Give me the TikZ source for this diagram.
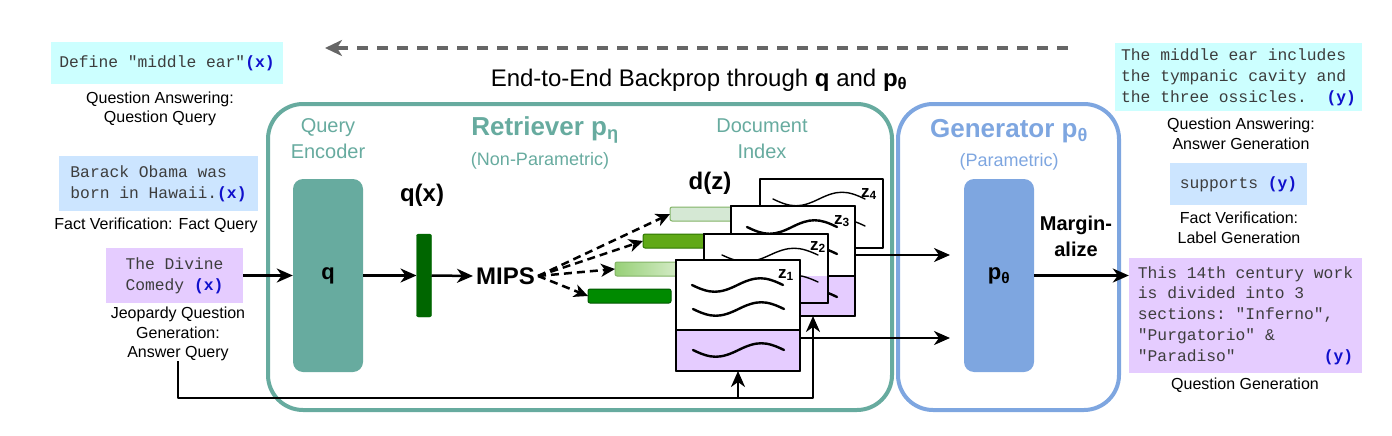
\documentclass[tikz,border=0pt]{standalone}
\usepackage{fontspec}
\setmainfont{Liberation Sans}
\setmonofont{Liberation Mono}
\usetikzlibrary{arrows.meta}
\definecolor{tealret}{HTML}{67AB9F}
\definecolor{bluegen}{HTML}{7EA6E0}
\definecolor{qacyan}{HTML}{CCFFFF}
\definecolor{fvblue}{HTML}{CCE5FF}
\definecolor{jqlav}{HTML}{E5CCFF}
\definecolor{qgreen}{HTML}{006600}
\definecolor{monogray}{HTML}{3D3D3D}
\definecolor{varblue}{HTML}{1010CC}
\definecolor{arrowgray}{HTML}{666666}
\definecolor{barAfill}{HTML}{D5E8D4}
\definecolor{barAline}{HTML}{82B366}
\definecolor{barBfill}{HTML}{60A917}
\definecolor{barBline}{HTML}{2D7600}
\definecolor{barCleft}{HTML}{97D077}
\definecolor{barCright}{HTML}{E8F4E0}
\definecolor{barDfill}{HTML}{008A00}
\definecolor{barDline}{HTML}{005700}
\newcommand{\fsz}[2]{\fontsize{#1}{#2}\selectfont}
\newcommand{\varx}{\textbf{\color{varblue}(x)}}
\newcommand{\vary}{\textbf{\color{varblue}(y)}}
% wave inside a document page: x, y, width
\newcommand{\docwave}[4][wavy]{\draw[#1] (#2,#3) .. controls (#2+0.2*#4,#3+9) and (#2+0.3*#4,#3+9) .. (#2+0.5*#4,#3) .. controls (#2+0.7*#4,#3-9) and (#2+0.8*#4,#3-9) .. (#2+#4,#3);}
\begin{document}
\begin{tikzpicture}[x=1pt, y=-1pt, >={Stealth[length=16pt,width=14pt,inset=5pt]}, line join=round,
	lab/.style={font=\fsz{16}{19.5}, align=center, inner sep=0pt},
	inbox/.style={font=\ttfamily\fsz{16.3}{20.8}, text=monogray, align=left, inner sep=0pt},
	headtxt/.style={align=center, inner sep=0pt},
	bold24/.style={font=\bfseries\fsz{24}{28}, inner sep=0pt},
	flow/.style={->, line width=2.5pt},
	mipsflow/.style={->, line width=2.5pt, dash pattern=on 8pt off 5pt, >={Stealth[length=14pt,width=13pt,inset=4pt]}},
	backprop/.style={->, draw=arrowgray, line width=3.2pt, dash pattern=on 11pt off 9pt, >={Stealth[length=17pt,width=16pt,inset=5pt]}},
	stage/.style={line width=4pt, rounded corners=35pt, inner sep=0pt, outer sep=0pt},
	encbox/.style={rounded corners=10pt, minimum width=70pt, minimum height=193pt, font=\bfseries\fsz{22}{26}},
	bar/.style={draw, line width=1pt, rounded corners=2pt, minimum width=83pt, minimum height=14pt, inner sep=0pt, outer sep=0pt},
	docpage/.style={draw, fill=white, inner sep=0pt, outer sep=0pt},
	wavy/.style={line width=2.4pt, line cap=round},
	thinwavy/.style={line width=1.4pt, line cap=round},
	zlab/.style={font=\bfseries\fsz{17}{20}, inner sep=0pt}]
	\useasboundingbox (0,0) rectangle (1392,436);
	% backprop arrow
	\coordinate (bpstart) at (1068,48);
	\coordinate (bpend) at (325,48);
	\draw[backprop] (bpstart) -- (bpend);
	\node[font=\fsz{24}{28}, inner sep=0pt] (bptxt) at (699,80) {End-to-End Backprop through \textbf{q} and \textbf{p\textsubscript{θ}}};
	% inputs
	\node[inbox, fill=qacyan, minimum width=232pt, minimum height=42pt] (inQA) at (167,63) {Define "middle ear"\varx};
	\node[lab] (labQA) at (160,109) {Question Answering:\\Question Query};
	\node[inbox, fill=fvblue, minimum width=199pt, minimum height=55pt] (inFV) at (158.5,183.5) {Barack Obama was\\born in Hawaii.\varx};
	\node[lab] (labFV) at (156,225) {Fact Verification: Fact Query};
	\node[inbox, fill=jqlav, minimum width=137pt, minimum height=55pt] (inJQ) at (174.5,275.5) {The Divine\\Comedy \varx};
	\node[lab] (labJQ) at (178,334) {Jeopardy Question\\Generation:\\Answer Query};
	% stages
	\node[stage, draw=tealret, minimum width=624pt, minimum height=306pt] (ret) at (580,257) {};
	\node[stage, draw=bluegen, minimum width=221pt, minimum height=306pt] (gen) at (1008.5,257) {};
	\node[headtxt, text=tealret, font=\fsz{20}{26}] (qenclab) at (328,139) {Query\\Encoder};
	\node[headtxt, text=tealret, font=\bfseries\fsz{26}{30}] (rettitle) at (545,130) {Retriever p\textsubscript{η}};
	\node[headtxt, text=tealret, font=\fsz{18}{22}] (retsub) at (540,161) {(Non-Parametric)};
	\node[headtxt, text=tealret, font=\fsz{20}{26}] (doclab) at (762,139) {Document\\Index};
	\node[headtxt, text=bluegen, font=\bfseries\fsz{26}{30}] (gentitle) at (1009,131) {Generator p\textsubscript{θ}};
	\node[headtxt, text=bluegen, font=\fsz{18}{22}] (gensub) at (1009,162) {(Parametric)};
	% retriever
	\node[encbox, fill=tealret] (q) at (328,275.5) {q};
	\node[bold24] (qxlab) at (422,195) {q(x)};
	\node[draw=qgreen, fill=qgreen, rounded corners=2pt, minimum width=15pt, minimum height=83pt, inner sep=0pt, outer sep=0pt] (qx) at (424,275.5) {};
	\node[bold24, inner sep=3pt] (mips) at (505.5,276) {MIPS};
	\node[bold24] (dzlab) at (710,183) {d(z)};
	\draw[flow] (inJQ.east) -- (q.west);
	\draw[flow] (q.east) -- (qx.west);
	\draw[flow] (qx.east) -- (mips.west);
	% embedding bars
	\node[bar, draw=barAline, fill=barAfill] (dA) at (711.5,214) {};
	\node[bar, draw=barBline, fill=barBfill] (dB) at (684.5,241) {};
	\node[bar, draw=barAline, left color=barCleft, right color=barCright] (dC) at (656.5,269) {};
	\node[bar, draw=barDline, fill=barDfill] (dD) at (629.5,296) {};
	\foreach \d in {dA,dB,dC,dD}
		\draw[mipsflow] (mips.east) -- (\d.west);
	% documents
	\node[docpage, line width=1.4pt, minimum width=123pt, minimum height=69pt] (z4) at (821.5,213.5) {};
	\docwave[thinwavy]{773}{199}{92}
	\docwave[thinwavy]{773}{226}{92}
	\node[zlab] (z4lab) at (869,194) {z\textsubscript{4}};
	\node[docpage, line width=2.6pt, minimum width=124pt, minimum height=110pt] (z3) at (793,261) {};
	\fill[jqlav] (z3.south west) rectangle (z3.east |- 0,276);
	\draw[line width=2.6pt] (z3.south west) rectangle (z3.north east);
	\draw[line width=2.6pt] (z3.west |- 0,276) -- (z3.east |- 0,276);
	\docwave{747}{227}{90}
	\docwave{747}{254}{90}
	\docwave{747}{297}{90}
	\node[zlab] (z3lab) at (842,221) {z\textsubscript{3}};
	\node[docpage, line width=1.4pt, minimum width=124pt, minimum height=69pt] (z2) at (766,268.5) {};
	\fill[jqlav] (z2.south west) rectangle (z2.east |- 0,276);
	\draw[line width=1.4pt] (z2.south west) rectangle (z2.north east);
	\docwave[thinwavy]{722}{255}{96}
	\docwave[thinwavy]{722}{282}{96}
	\node[zlab] (z2lab) at (818,247) {z\textsubscript{2}};
	\node[docpage, line width=2.6pt, minimum width=124pt, minimum height=111pt] (z1) at (738,315.5) {};
	\fill[jqlav] (z1.south west) rectangle (z1.east |- 0,330);
	\draw[line width=2.6pt] (z1.south west) rectangle (z1.north east);
	\draw[line width=2.6pt] (z1.west |- 0,330) -- (z1.east |- 0,330);
	\docwave{692}{285}{91}
	\docwave{693}{309}{91}
	\docwave{693}{350}{91}
	\node[zlab] (z1lab) at (786,275) {z\textsubscript{1}};
	% feedback of the answer query
	\coordinate (fbend) at (813,398);
	\draw[flow] (labJQ.south) |- (fbend) -- (z3.south -| fbend);
	\draw[flow] (z1.south |- fbend) -- (z1.south);
	% generator
	\node[encbox, fill=bluegen] (pgen) at (999,275.5) {p\textsubscript{θ}};
	\node[font=\bfseries\fsz{20}{26}, align=center, inner sep=0pt] (marg) at (1076,236) {Margin-\\alize};
	\coordinate (genin1) at (950,255);
	\coordinate (genin2) at (950,338);
	\draw[flow] (z3.east |- genin1) -- (genin1);
	\draw[flow] (z1.east |- genin2) -- (genin2);
	% outputs
	\node[inbox, fill=qacyan, minimum width=247pt, minimum height=68pt] (outQA) at (1238.5,77) {The middle ear includes\\the tympanic cavity and\\the three ossicles.\ \ \vary};
	\node[lab] (labQA2) at (1241,134) {Question Answering:\\Answer Generation};
	\node[inbox, fill=fvblue, minimum width=137pt, minimum height=42pt] (outFV) at (1238.5,184) {supports \vary};
	\node[lab] (labFV2) at (1239,228) {Fact Verification:\\Label Generation};
	\node[inbox, fill=jqlav, minimum width=233pt, minimum height=115pt] (outQG) at (1245.5,315.5) {This 14th century work\\is divided into 3\\sections: "Inferno",\\"Purgatorio" \&\\"Paradiso"\ \ \ \ \ \ \ \ \ \vary};
	\node[lab] (labQG) at (1245,385) {Question Generation};
	\draw[flow] (pgen.east) -- (pgen.east -| outQG.west);
\end{tikzpicture}
\end{document}
